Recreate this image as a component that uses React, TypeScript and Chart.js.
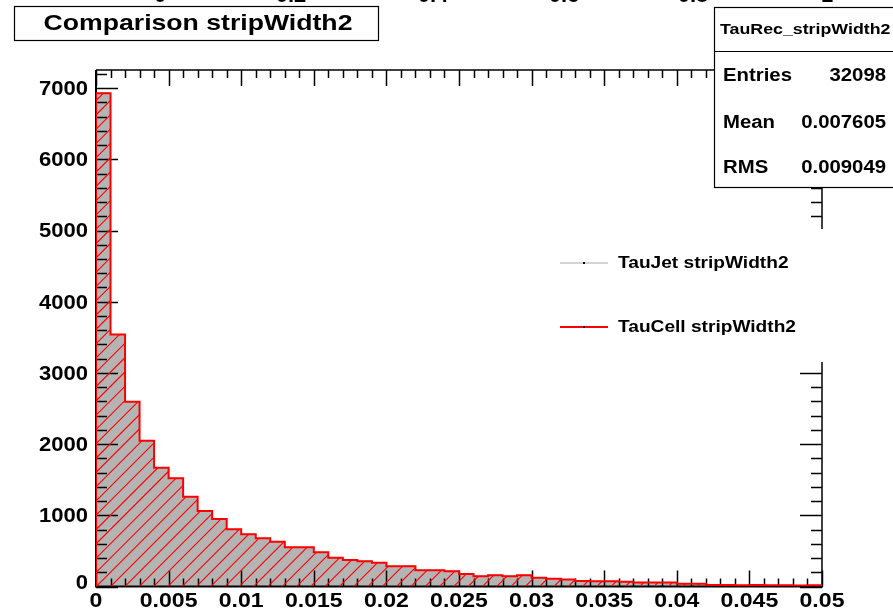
import React, { useEffect, useRef } from 'react';
import { Chart, registerables } from 'chart.js';

Chart.register(...registerables);

// ---- data ----
const binWidth = 0.001;
const tauJetCounts = [
  6930, 3540, 2596, 2048, 1669, 1520, 1261, 1060, 948, 803,
  733, 677, 629, 551, 551, 480, 404, 372, 356, 333,
  285, 285, 229, 229, 215, 175, 145, 159, 145, 159,
  122, 108, 98, 78, 75, 75, 66, 55, 55, 55,
  38, 38, 22, 20, 18, 20, 16, 18, 15, 17,
];
const tauCellCounts = [
  6930, 3540, 2596, 2048, 1669, 1520, 1261, 1060, 948, 803,
  733, 677, 629, 551, 551, 480, 404, 372, 356, 333,
  285, 285, 229, 229, 215, 175, 145, 159, 145, 159,
  122, 108, 98, 78, 75, 75, 66, 55, 55, 55,
  38, 38, 22, 20, 18, 20, 16, 18, 15, 17,
];
const xTickLabels = ['0', '0.005', '0.01', '0.015', '0.02', '0.025', '0.03', '0.035', '0.04', '0.045', '0.05'];
const yTickLabels = ['0', '1000', '2000', '3000', '4000', '5000', '6000', '7000'];
const seriesNames = ['TauJet stripWidth2', 'TauCell stripWidth2'];
const titleText = 'Comparison stripWidth2';
const statsTitle = 'TauRec_stripWidth2';
const statsLabels = ['Entries', 'Mean', 'RMS'];
const statsValues = ['32098', '0.007605', '0.009049'];
const topCutLabels = ['0', '0.2', '0.4', '0.6', '0.8', '1'];

function toSteps(counts: number[]) {
  const pts: { x: number; y: number }[] = [{ x: 0, y: 0 }];
  counts.forEach((c, i) => pts.push({ x: i * binWidth, y: c }));
  pts.push({ x: counts.length * binWidth, y: 0 });
  return pts;
}

const FONT = '"Liberation Sans", Arial, Helvetica, sans-serif';

function txt(ctx: CanvasRenderingContext2D, s: string, x: number, y: number, size: number, align: string, sx = 1, baseline: CanvasTextBaseline = 'middle') {
  ctx.save();
  ctx.font = `bold ${size}px ${FONT}`;
  ctx.textBaseline = baseline;
  ctx.textAlign = 'left';
  ctx.fillStyle = '#000';
  const w = ctx.measureText(s).width * sx;
  const left = align === 'left' ? x : align === 'right' ? x - w : x - w / 2;
  ctx.translate(left, y);
  ctx.scale(sx, 1);
  ctx.fillText(s, 0, 0);
  ctx.restore();
}

function seg(ctx: CanvasRenderingContext2D, x1: number, y1: number, x2: number, y2: number) {
  ctx.beginPath();
  ctx.moveTo(x1, y1);
  ctx.lineTo(x2, y2);
  ctx.stroke();
}

const rootPlugin = {
  id: 'rootStyle',
  beforeDatasetDraw(chart: any, args: any) {
    if (args.index !== 1) return;
    const { ctx, chartArea: a } = chart;
    const xs = chart.scales.x;
    const ys = chart.scales.y;
    ctx.save();
    ctx.strokeStyle = '#000';
    ctx.lineWidth = 1.5;
    const nMinor = Math.round(0.05 / binWidth);
    for (let i = 0; i <= nMinor; i++) {
      const px = Math.round(xs.getPixelForValue(i * binWidth)) + 0.5;
      const len = i % 5 === 0 ? 16 : 8;
      seg(ctx, px, a.bottom, px, a.bottom - len);
      seg(ctx, px, a.top, px, a.top + len);
    }
    for (let v = 0; v <= ys.max; v += 200) {
      const py = Math.round(ys.getPixelForValue(v)) + 0.5;
      const len = v % 1000 === 0 ? 22 : 11;
      seg(ctx, a.left, py, a.left + len, py);
      seg(ctx, a.right, py, a.right - len, py);
    }
    ctx.lineWidth = 2;
    seg(ctx, a.left, a.top, a.left, a.bottom);
    seg(ctx, a.left - 1, a.bottom, a.right + 1, a.bottom);
    ctx.lineWidth = 1.5;
    seg(ctx, a.left, a.top, a.right, a.top);
    seg(ctx, a.right, a.top, a.right, a.bottom);
    ctx.restore();

    // red hatch inside the TauCell histogram outline
    const line = chart.getDatasetMeta(1).dataset;
    if (line && typeof line.path === 'function') {
      ctx.save();
      ctx.beginPath();
      ctx.rect(a.left, a.top, a.right - a.left, a.bottom - a.top);
      ctx.clip();
      ctx.beginPath();
      line.path(ctx);
      ctx.closePath();
      ctx.clip();
      ctx.strokeStyle = '#ff0000';
      ctx.lineWidth = 1.1;
      const H = a.bottom - a.top;
      for (let k = a.left - H; k < a.right + 14; k += 14.3) {
        seg(ctx, k, a.bottom + 2, k + H + 2, a.top);
      }
      ctx.restore();
    }
  },
  afterDraw(chart: any) {
    const { ctx, chartArea: a } = chart;
    const xs = chart.scales.x;
    const ys = chart.scales.y;
    ctx.save();
    // tick labels
    xTickLabels.forEach((l) => {
      const px = xs.getPixelForValue(parseFloat(l));
      txt(ctx, l, px, a.bottom + 15, 21, 'center', 1.1);
    });
    yTickLabels.forEach((l) => {
      const v = parseFloat(l);
      const py = ys.getPixelForValue(v) - (v === 0 ? 4 : 0);
      txt(ctx, l, a.left - 8, py + 1, 21, 'right', 1.05);
    });
    // cut-off labels at the very top
    const cutX = [160, 291, 433, 564, 693, 827];
    topCutLabels.forEach((l, i) => txt(ctx, l, cutX[i], 2, 20, 'center', 1.1, 'alphabetic'));
    // title box
    ctx.fillStyle = '#fff';
    ctx.fillRect(14.5, 6.5, 364, 34);
    ctx.strokeStyle = '#000';
    ctx.lineWidth = 1.2;
    ctx.strokeRect(14.5, 6.5, 364, 34);
    txt(ctx, titleText, 198, 24, 22, 'center', 1.21);
    // stats box
    ctx.fillStyle = '#fff';
    ctx.fillRect(714.5, 7.5, 200, 180);
    ctx.strokeRect(714.5, 7.5, 200, 180);
    seg(ctx, 714.5, 51.5, 893, 51.5);
    txt(ctx, statsTitle, 720, 30, 14, 'left', 1.27);
    const rowY = [76.5, 123, 168];
    statsLabels.forEach((l, i) => {
      txt(ctx, l, 723, rowY[i], 18, 'left', 1.13);
      txt(ctx, statsValues[i], 886, rowY[i], 18, 'right', 1.13);
    });
    // legend box (white, no border)
    ctx.fillStyle = '#fff';
    ctx.fillRect(548, 229, 290, 133);
    const legY = [263, 327];
    const legColors = ['#c4c4c4', '#ff0000'];
    const legW = [1.3, 2];
    seriesNames.forEach((n, i) => {
      ctx.strokeStyle = legColors[i];
      ctx.lineWidth = legW[i];
      seg(ctx, 560, legY[i], 608, legY[i]);
      ctx.fillStyle = '#000';
      ctx.fillRect(583, legY[i] - 1, 2, 2);
      txt(ctx, n, 618, legY[i], 17, 'left', 1.125);
    });
    ctx.restore();
  },
};

export default function App() {
  const ref = useRef<HTMLCanvasElement>(null);
  useEffect(() => {
    if (!ref.current) return;
    const chart = new Chart(ref.current, {
      type: 'line',
      data: {
        datasets: [
          {
            label: seriesNames[0],
            data: toSteps(tauJetCounts),
            stepped: true,
            fill: 'origin',
            backgroundColor: '#b4b4b4',
            borderColor: '#b4b4b4',
            borderWidth: 1,
            pointRadius: 0,
            order: 2,
          },
          {
            label: seriesNames[1],
            data: toSteps(tauCellCounts),
            stepped: true,
            fill: false,
            backgroundColor: 'rgba(0,0,0,0)',
            borderColor: '#ff0000',
            borderWidth: 2,
            pointRadius: 0,
            order: 1,
          },
        ],
      },
      options: {
        responsive: false,
        animation: false,
        events: [],
        layout: { padding: { left: 96, right: 71, top: 70, bottom: 26.5 } },
        plugins: { legend: { display: false }, tooltip: { enabled: false }, title: { display: false } },
        scales: {
          x: { type: 'linear', min: 0, max: 0.05, display: false },
          y: { type: 'linear', min: 0, max: 7255, display: false },
        },
      },
      plugins: [rootPlugin],
    });
    return () => chart.destroy();
  }, []);
  return (
    <div style={{ position: 'fixed', left: 0, top: 0, width: 893, height: 613, background: '#fff' }}>
      <canvas ref={ref} width={893} height={613} style={{ display: 'block' }} />
    </div>
  );
}
